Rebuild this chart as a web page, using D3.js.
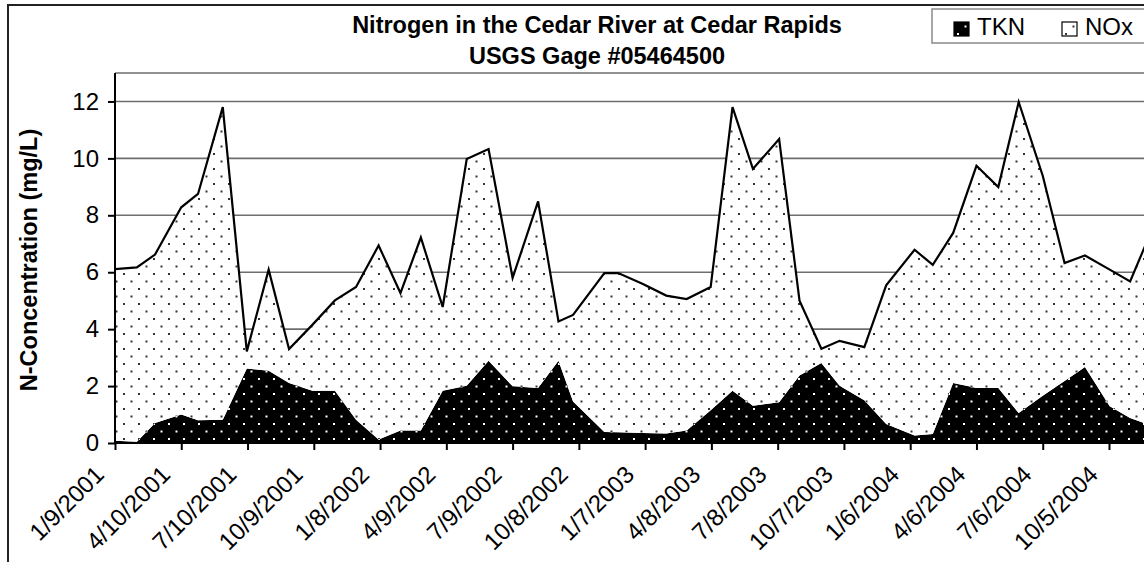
<!DOCTYPE html>
<html>
<head>
<meta charset="utf-8">
<script src="https://cdn.jsdelivr.net/npm/d3@7"></script>
<style>
  html, body { margin: 0; padding: 0; background: #fff; overflow: hidden; }
  svg { display: block; font-family: "Liberation Sans", Arial, sans-serif; }
</style>
</head>
<body>
<div id="chart"></div>
<script>
// sample dates
const sampleDates = [
  "2001-01-09", "2001-02-08", "2001-03-05", "2001-04-10", "2001-05-03", "2001-06-06",
  "2001-07-09", "2001-08-08", "2001-09-05", "2001-10-07", "2001-11-07", "2001-12-06",
  "2002-01-06", "2002-02-05", "2002-03-05", "2002-04-04", "2002-05-07", "2002-06-06",
  "2002-07-09", "2002-08-13", "2002-09-10", "2002-09-30", "2002-11-12", "2002-12-01",
  "2003-01-04", "2003-02-05", "2003-03-05", "2003-04-07", "2003-05-07", "2003-06-04",
  "2003-07-10", "2003-08-07", "2003-09-06", "2003-10-01", "2003-11-04", "2003-12-04",
  "2004-01-12", "2004-02-06", "2004-03-05", "2004-04-06", "2004-05-06", "2004-06-03",
  "2004-07-06", "2004-08-05", "2004-09-02", "2004-10-06", "2004-11-03", "2004-11-24"
];
// TKN (mg/L)
const tkn = [
  0.08, 0.04, 0.70, 1.00, 0.80, 0.82,
  2.62, 2.54, 2.11, 1.84, 1.84, 0.82,
  0.12, 0.44, 0.44, 1.84, 2.01, 2.89,
  1.99, 1.93, 2.89, 1.46, 0.39, 0.38,
  0.35, 0.33, 0.44, 1.15, 1.84, 1.31,
  1.43, 2.37, 2.81, 2.01, 1.50, 0.67,
  0.26, 0.32, 2.11, 1.93, 1.93, 1.05,
  1.66, 2.18, 2.67, 1.29, 0.88, 0.68
];
// NOx (mg/L)
const nox = [
  6.03, 6.13, 5.92, 7.28, 7.95, 10.98,
  0.60, 3.55, 1.19, 2.31, 3.17, 4.66,
  6.82, 4.83, 6.78, 2.94, 7.97, 7.44,
  3.81, 6.56, 1.38, 3.04, 5.58, 5.59,
  5.24, 4.85, 4.62, 4.33, 9.96, 8.32,
  9.25, 2.63, 0.50, 1.58, 1.87, 4.87,
  6.53, 5.94, 5.27, 7.81, 7.06, 10.93,
  7.73, 4.14, 3.92, 4.80, 4.80, 6.27
];
const tickLabels = [
  "1/9/2001", "4/10/2001", "7/10/2001", "10/9/2001", "1/8/2002", "4/9/2002",
  "7/9/2002", "10/8/2002", "1/7/2003", "4/8/2003", "7/8/2003", "10/7/2003",
  "1/6/2004", "4/6/2004", "7/6/2004", "10/5/2004"
];
const yTicks = [0, 2, 4, 6, 8, 10, 12];
const seriesNames = ["TKN", "NOx"];

const W = 1144, H = 562;
const plotLeft = 115, plotTop = 73, plotBottom = 443;

const parseSample = d3.utcParse("%Y-%m-%d");
const parseTick = d3.utcParse("%m/%d/%Y");
const tickDates = tickLabels.map(parseTick);

const rows = sampleDates.map((s, i) => ({ date: parseSample(s), tkn: tkn[i], nox: nox[i] }));

// x: date axis, first and last label pinned, then extended past the window edge
const x = d3.scaleUtc()
  .domain([tickDates[0], tickDates[tickDates.length - 1]])
  .range([plotLeft, 1109]);
const xEnd = new Date(Date.UTC(2005, 0, 10));
const xEndPx = x(xEnd);
x.domain([tickDates[0], xEnd]).range([plotLeft, xEndPx]);

const y = d3.scaleLinear().domain([0, 13]).range([plotBottom, plotTop]);

const svg = d3.select('#chart').append('svg')
  .attr('width', W)
  .attr('height', H);

// dot patterns ---------------------------------------------------------------
const defs = svg.append('defs');
function dotPattern(id, bg, fg) {
  const p = defs.append('pattern')
    .attr('id', id)
    .attr('patternUnits', 'userSpaceOnUse')
    .attr('width', 15)
    .attr('height', 15);
  p.append('rect').attr('width', 15).attr('height', 15).attr('fill', bg);
  p.append('rect').attr('x', 3).attr('y', 3).attr('width', 2).attr('height', 2).attr('fill', fg);
  p.append('rect').attr('x', 10.5).attr('y', 10.5).attr('width', 2).attr('height', 2).attr('fill', fg);
}
dotPattern('pat-tkn', '#000', '#fff');
dotPattern('pat-nox', '#fff', '#333');
const fills = { tkn: 'url(#pat-tkn)', nox: 'url(#pat-nox)' };

defs.append('clipPath').attr('id', 'plot-clip')
  .append('rect')
  .attr('x', plotLeft).attr('y', plotTop)
  .attr('width', W - plotLeft + 50).attr('height', plotBottom - plotTop);

// chart area border
svg.append('rect')
  .attr('x', 8).attr('y', 5)
  .attr('width', W + 50).attr('height', H + 50)
  .attr('fill', '#fff')
  .attr('stroke', '#222')
  .attr('stroke-width', 2);

// gridlines + plot top border
svg.append('g')
  .selectAll('line')
  .data(yTicks.filter(d => d > 0).concat([13]))
  .enter()
  .append('line')
  .attr('x1', plotLeft).attr('x2', W + 10)
  .attr('y1', d => y(d)).attr('y2', d => y(d))
  .attr('stroke', '#6e6e6e')
  .attr('stroke-width', 1.6);

// stacked areas --------------------------------------------------------------
const stack = d3.stack().keys(['tkn', 'nox']);
const layers = stack(rows);

const area = d3.area()
  .x(d => x(d.data.date))
  .y0(d => y(d[0]))
  .y1(d => y(d[1]));

const plot = svg.append('g').attr('clip-path', 'url(#plot-clip)');

plot.selectAll('path.layer')
  .data(layers)
  .enter()
  .append('path')
  .attr('class', 'layer')
  .attr('d', area)
  .attr('fill', d => fills[d.key]);

// outline on top of the NOx series
plot.append('path')
  .attr('d', d3.line().x(d => x(d.data.date)).y(d => y(d[1]))(layers[1]))
  .attr('fill', 'none')
  .attr('stroke', '#000')
  .attr('stroke-width', 2.2)
  .attr('stroke-linejoin', 'miter');

// axes -----------------------------------------------------------------------
const yAxis = svg.append('g')
  .attr('transform', `translate(${plotLeft},0)`)
  .call(d3.axisLeft(y).tickValues(yTicks).tickSize(7).tickPadding(9).tickFormat(d3.format('d')));
yAxis.select('.domain').remove();
yAxis.append('line')
  .attr('x1', 0).attr('x2', 0)
  .attr('y1', plotTop).attr('y2', plotBottom + 1)
  .attr('stroke', '#000').attr('stroke-width', 2);
yAxis.selectAll('.tick line').attr('stroke', '#000').attr('stroke-width', 2);
yAxis.selectAll('.tick text')
  .attr('font-size', '24px')
  .attr('fill', '#000')
  .attr('font-family', '"Liberation Sans", Arial, sans-serif');

const xAxis = svg.append('g')
  .attr('transform', `translate(0,${plotBottom})`)
  .call(d3.axisBottom(x).tickValues(tickDates).tickSize(7).tickFormat((d, i) => tickLabels[i]));
xAxis.select('.domain').remove();
xAxis.append('line')
  .attr('x1', plotLeft - 1).attr('x2', W + 10)
  .attr('y1', 0).attr('y2', 0)
  .attr('stroke', '#000').attr('stroke-width', 2);
xAxis.selectAll('.tick line').attr('stroke', '#000').attr('stroke-width', 2);
xAxis.selectAll('.tick text')
  .attr('font-size', '24px')
  .attr('fill', '#000')
  .attr('font-family', '"Liberation Sans", Arial, sans-serif')
  .attr('text-anchor', 'end')
  .attr('y', 0)
  .attr('dy', 0)
  .attr('transform', 'translate(-10,33) rotate(-45)');

// y axis title
svg.append('text')
  .attr('transform', 'translate(37,260) rotate(-90)')
  .attr('text-anchor', 'middle')
  .attr('font-size', '23.5px')
  .attr('font-weight', 'bold')
  .text('N-Concentration (mg/L)');

// chart title
const title = svg.append('text')
  .attr('text-anchor', 'middle')
  .attr('font-size', '23.5px')
  .attr('font-weight', 'bold');
title.append('tspan').attr('x', 597).attr('y', 33).text('Nitrogen in the Cedar River at Cedar Rapids');
title.append('tspan').attr('x', 597).attr('y', 64).text('USGS Gage #05464500');

// legend ---------------------------------------------------------------------
const legend = svg.append('g');
legend.append('rect')
  .attr('x', 932).attr('y', 9)
  .attr('width', 300).attr('height', 34)
  .attr('fill', '#fff')
  .attr('stroke', '#8a8a8a')
  .attr('stroke-width', 1.5);
const items = legend.selectAll('g.item')
  .data(seriesNames)
  .enter()
  .append('g')
  .attr('class', 'item')
  .attr('transform', (d, i) => `translate(${954 + i * 108},0)`);
items.append('rect')
  .attr('x', 0).attr('y', 22)
  .attr('width', 15).attr('height', 14)
  .attr('fill', (d, i) => i === 0 ? fills.tkn : fills.nox)
  .attr('stroke', '#000')
  .attr('stroke-width', 1.2);
items.append('text')
  .attr('x', 23).attr('y', 35)
  .attr('font-size', '24px')
  .text(d => d);
</script>
</body>
</html>
